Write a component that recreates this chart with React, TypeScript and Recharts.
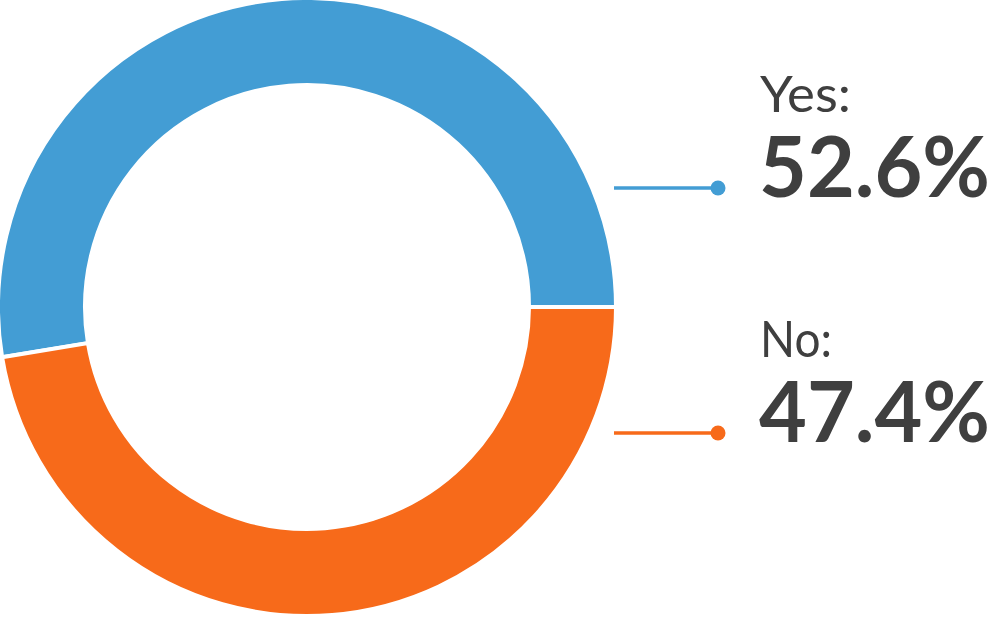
import { Pie, PieChart, Cell } from "recharts"

// answers and their shares (percent)
const answers = ["Yes", "No"]
const shares = [52.6, 47.4]
const colors = ["#439dd4", "#f76a1a"]

const data = answers.map((name, i) => ({ name, value: shares[i] }))

const TEXT = "#3f3f3f"
// vertical position of each callout line, relative to the centre
const calloutOffset = [-119, 126]
const nameWidth = [91, 72]

const renderLabel = (props: any) => {
  const { cx, cy, outerRadius, index, payload } = props
  const y = cy + calloutOffset[index]
  const x0 = cx + outerRadius - 2
  const x1 = x0 + 104
  const color = colors[index]
  return (
    <g key={`lbl-${index}`}>
      <line x1={x0} y1={y} x2={x1} y2={y} stroke={color} strokeWidth={3.5} />
      <circle cx={x1} cy={y} r={7.5} fill={color} />
      <text
        x={x1 + 42}
        y={y - 76}
        fill={TEXT}
        fontFamily="Lato, sans-serif"
        fontWeight={400}
        fontSize={51}
        textLength={nameWidth[index]}
        lengthAdjust="spacingAndGlyphs"
      >
        {payload.name}:
      </text>
      <text
        x={x1 + 41}
        y={y + 9}
        fill={TEXT}
        fontFamily="Lato, sans-serif"
        fontWeight={700}
        fontSize={85}
        textLength={231}
        lengthAdjust="spacingAndGlyphs"
      >
        {payload.value.toFixed(1)}%
      </text>
    </g>
  )
}

export default function App() {
  return (
    <div style={{ position: "absolute", left: 0, top: 0, background: "#fff" }}>
      <PieChart width={1000} height={618} margin={{ top: 0, right: 0, bottom: 0, left: 0 }}>
        <Pie
          data={data}
          dataKey="value"
          nameKey="name"
          cx={307}
          cy={307}
          outerRadius={309}
          innerRadius={222}
          startAngle={0}
          endAngle={360}
          stroke="#ffffff"
          strokeWidth={4}
          label={renderLabel}
          labelLine={false}
          isAnimationActive={false}
        >
          {data.map((d, i) => (
            <Cell key={d.name} fill={colors[i]} />
          ))}
        </Pie>
      </PieChart>
    </div>
  )
}
